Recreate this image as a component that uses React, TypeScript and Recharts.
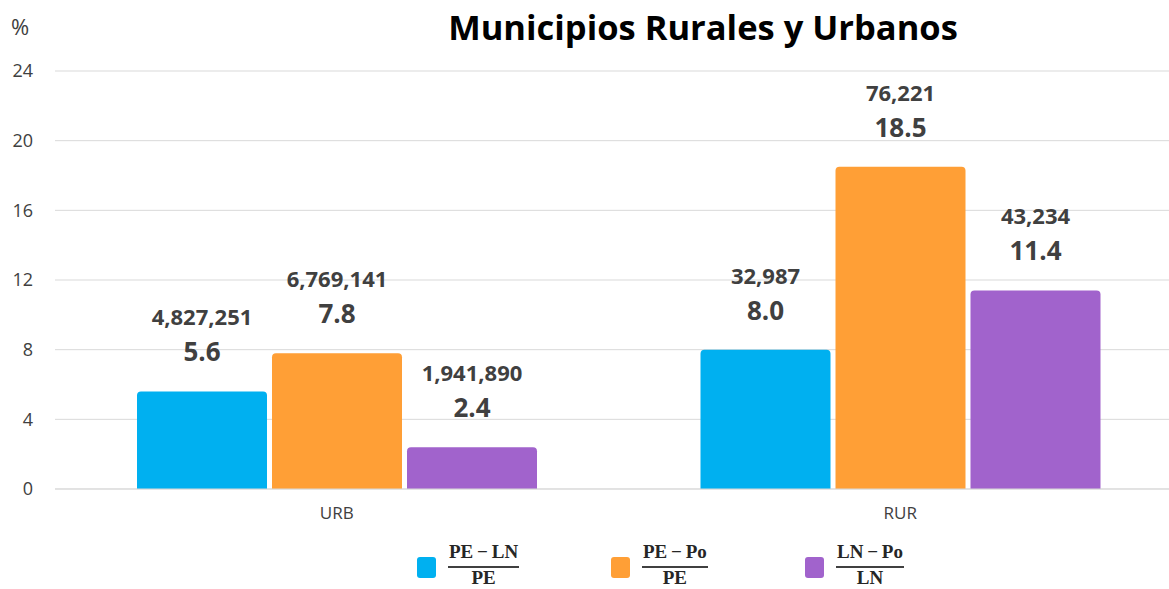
import React from 'react'
import { BarChart, Bar, XAxis, YAxis, CartesianGrid, LabelList } from 'recharts'

const categories = ['URB', 'RUR']
// percentages (bar heights)
const pctPeLn = [5.6, 8.0]
const pctPePo = [7.8, 18.5]
const pctLnPo = [2.4, 11.4]
// absolute counts shown above the percentages
const cntPeLn = [4827251, 32987]
const cntPePo = [6769141, 76221]
const cntLnPo = [1941890, 43234]
const yTicks = [0, 4, 8, 12, 16, 20, 24]

const series = [
  { key: 'peLn', cnt: 'cPeLn', color: '#00B0F0', num: 'PE\u2009−\u2009LN', den: 'PE' },
  { key: 'pePo', cnt: 'cPePo', color: '#FF9F36', num: 'PE\u2009−\u2009Po', den: 'PE' },
  { key: 'lnPo', cnt: 'cLnPo', color: '#A163CC', num: 'LN\u2009−\u2009Po', den: 'LN' },
]

const data = categories.map((name, i) => ({
  name,
  peLn: pctPeLn[i],
  pePo: pctPePo[i],
  lnPo: pctLnPo[i],
  cPeLn: cntPeLn[i],
  cPePo: cntPePo[i],
  cLnPo: cntLnPo[i],
}))

const FONT = '"Open Sans", sans-serif'
const TEXT = '#404040'

function Fraction({ num, den }: { num: string; den: string }) {
  return (
    <div
      style={{
        display: 'inline-flex',
        flexDirection: 'column',
        alignItems: 'stretch',
        fontFamily: '"Liberation Serif", serif',
        fontWeight: 700,
        fontSize: 19,
        color: '#262626',
        textAlign: 'center',
      }}
    >
      <div style={{ lineHeight: '18px', whiteSpace: 'pre', padding: '0 1px' }}>{num}</div>
      <div style={{ height: 2, background: '#404040', marginTop: 5 }} />
      <div style={{ lineHeight: '18px', marginTop: 1 }}>{den}</div>
    </div>
  )
}

export default function App() {
  return (
    <div
      style={{
        position: 'relative',
        width: 1169,
        height: 589,
        overflow: 'hidden',
        background: '#fff',
        fontFamily: FONT,
      }}
    >
      <style>{'body{margin:0}'}</style>
      <div
        style={{
          position: 'absolute',
          left: 703,
          top: 10,
          transform: 'translateX(-50%)',
          fontSize: 34.5,
          lineHeight: '34px',
          fontWeight: 700,
          color: '#000',
          whiteSpace: 'nowrap',
        }}
      >
        Municipios Rurales y Urbanos
      </div>
      <div style={{ position: 'absolute', left: 11, top: 15, fontSize: 22, lineHeight: '22px', color: TEXT }}>%</div>

      {/* plot runs a little past the right edge, as in the original */}
      <BarChart
        width={1182}
        height={589}
        data={data}
        margin={{ top: 71, right: 0, left: 0, bottom: 70 }}
        barCategoryGap={82}
        barGap={5}
      >
        <CartesianGrid vertical={false} stroke="#d9d9d9" />
        <XAxis
          dataKey="name"
          axisLine={{ stroke: '#d9d9d9' }}
          tickLine={false}
          tickMargin={12}
          tick={{ fontSize: 17, fill: TEXT, fontFamily: FONT }}
        />
        <YAxis
          width={55}
          domain={[0, 24]}
          ticks={yTicks}
          axisLine={false}
          tickLine={false}
          tickSize={0}
          tickMargin={22}
          tick={{ fontSize: 18, fill: TEXT, fontFamily: FONT }}
        />
        {series.map((s) => (
          <Bar key={s.key} dataKey={s.key} fill={s.color} radius={[4, 4, 0, 0]} isAnimationActive={false}>
            <LabelList
              dataKey={s.key}
              position="top"
              offset={30}
              formatter={(v: number) => v.toFixed(1)}
              style={{ fontSize: 26, fontWeight: 700, fill: TEXT, fontFamily: FONT }}
            />
            <LabelList
              dataKey={s.cnt}
              position="top"
              offset={66}
              formatter={(v: number) => v.toLocaleString('en-US')}
              style={{ fontSize: 22, fontWeight: 700, fill: TEXT, fontFamily: FONT }}
            />
          </Bar>
        ))}
      </BarChart>

      {series.map((s, i) => (
        <div
          key={s.key}
          style={{ position: 'absolute', left: 417 + i * 194, top: 541, display: 'flex', alignItems: 'flex-start' }}
        >
          <div style={{ width: 19, height: 21, marginTop: 16, borderRadius: 3, background: s.color }} />
          <div style={{ marginLeft: 12 }}>
            <Fraction num={s.num} den={s.den} />
          </div>
        </div>
      ))}
    </div>
  )
}
